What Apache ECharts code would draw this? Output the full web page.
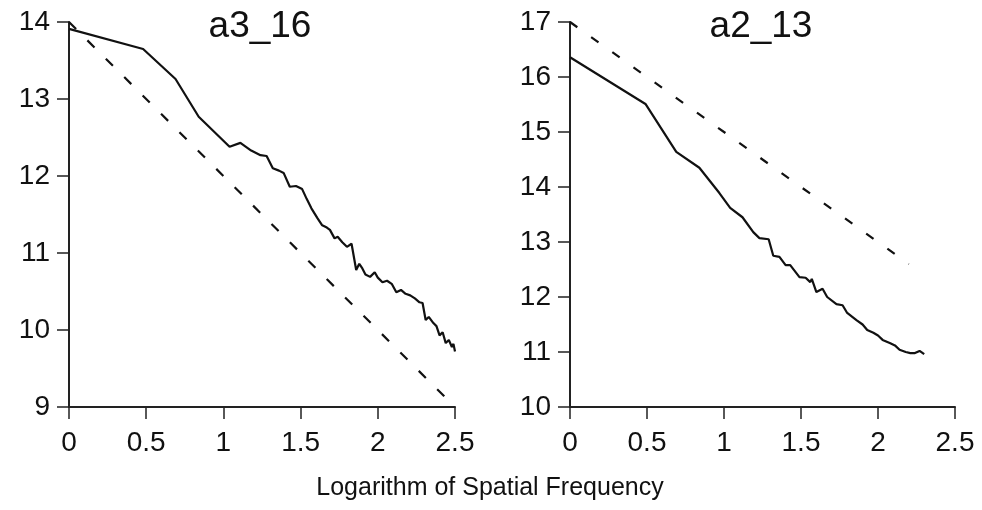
<!DOCTYPE html>
<html>
<head>
<meta charset="utf-8">
<script src="https://cdn.jsdelivr.net/npm/echarts@6/dist/echarts.min.js"></script>
<style>
  html, body { margin: 0; padding: 0; background: #fff; }
  #chart { width: 982px; height: 510px; }
</style>
</head>
<body>
<div id="chart"></div>
<script>
var chartDom = document.getElementById('chart');
var myChart = echarts.init(chartDom);

// panel titles
var titles = ['a3_16', 'a2_13'];

// left panel (a3_16) measured spectrum
var leftX = [0, 0.48, 0.69, 0.84, 1.04, 1.11, 1.18, 1.24, 1.28, 1.32, 1.36, 1.39, 1.43, 1.47, 1.51, 1.54, 1.57, 1.61, 1.64, 1.67, 1.69, 1.72, 1.74, 1.77, 1.80, 1.83, 1.86, 1.88, 1.90, 1.92, 1.95, 1.98, 2.00, 2.03, 2.06, 2.09, 2.12, 2.15, 2.18, 2.21, 2.24, 2.27, 2.29, 2.31, 2.33, 2.36, 2.38, 2.40, 2.42, 2.44, 2.46, 2.48, 2.49, 2.5];
var leftY = [13.91, 13.65, 13.26, 12.77, 12.38, 12.43, 12.33, 12.27, 12.26, 12.10, 12.07, 12.04, 11.86, 11.87, 11.83, 11.70, 11.58, 11.45, 11.36, 11.33, 11.30, 11.19, 11.21, 11.14, 11.08, 11.12, 10.78, 10.86, 10.80, 10.72, 10.69, 10.75, 10.68, 10.62, 10.64, 10.60, 10.49, 10.52, 10.47, 10.45, 10.41, 10.36, 10.35, 10.13, 10.17, 10.09, 10.05, 9.93, 9.97, 9.83, 9.87, 9.78, 9.82, 9.72];

// right panel (a2_13) measured spectrum
var rightX = [0, 0.49, 0.69, 0.84, 0.97, 1.04, 1.12, 1.19, 1.23, 1.29, 1.32, 1.36, 1.40, 1.43, 1.49, 1.53, 1.56, 1.57, 1.60, 1.64, 1.67, 1.73, 1.77, 1.80, 1.86, 1.90, 1.93, 1.97, 2.00, 2.03, 2.08, 2.11, 2.14, 2.18, 2.21, 2.24, 2.27, 2.30];
var rightY = [16.36, 15.51, 14.64, 14.35, 13.89, 13.62, 13.45, 13.18, 13.07, 13.05, 12.75, 12.73, 12.58, 12.58, 12.36, 12.35, 12.27, 12.33, 12.09, 12.15, 12.00, 11.87, 11.85, 11.71, 11.58, 11.50, 11.40, 11.35, 11.30, 11.22, 11.16, 11.12, 11.04, 11.00, 10.98, 10.98, 11.02, 10.96];

// reference slope lines (slope -2)
var leftRefX = [0, 2.5];
var leftRefY = [14.0, 9.0];
var rightRefX = [0, 2.2];
var rightRefY = [17.0, 12.6];

function pairs(xs, ys) {
  var out = [];
  for (let i = 0; i < xs.length; i++) out.push([xs[i], ys[i]]);
  return out;
}

var axisColor = '#222';
var font = 'Liberation Sans, Arial, sans-serif';

function xAxis(idx) {
  return {
    type: 'value', gridIndex: idx, min: 0, max: 2.5, interval: 0.5,
    axisLine: { show: true, onZero: false, lineStyle: { color: axisColor, width: 2 } },
    axisTick: { show: true, length: 12, lineStyle: { color: axisColor, width: 1.5 } },
    axisLabel: {
      color: '#111', fontSize: 28, fontFamily: font, margin: 22,
      formatter: function (v) { return String(v); }
    },
    splitLine: { show: false }
  };
}
function yAxis(idx, min, max) {
  return {
    type: 'value', gridIndex: idx, min: min, max: max, interval: 1,
    axisLine: { show: true, onZero: false, lineStyle: { color: axisColor, width: 2 } },
    axisTick: { show: true, length: 12, lineStyle: { color: axisColor, width: 1.5 } },
    axisLabel: { color: '#111', fontSize: 28, fontFamily: font, margin: 19 },
    splitLine: { show: false }
  };
}

var option = {
  animation: false,
  backgroundColor: '#fff',
  title: [
    { text: titles[0], left: 260, top: 8, padding: 0, textAlign: 'center',
      textStyle: { fontSize: 37, fontWeight: 'normal', color: '#111', fontFamily: font } },
    { text: titles[1], left: 761, top: 8, padding: 0, textAlign: 'center',
      textStyle: { fontSize: 37, fontWeight: 'normal', color: '#111', fontFamily: font } },
    { text: 'Logarithm of Spatial Frequency', left: 490, top: 476, padding: 0, textAlign: 'center',
      textStyle: { fontSize: 25, fontWeight: 'normal', color: '#111', fontFamily: font } }
  ],
  grid: [
    { left: 69, top: 22, width: 386, height: 385 },
    { left: 570, top: 22, width: 385, height: 385 }
  ],
  xAxis: [xAxis(0), xAxis(1)],
  yAxis: [yAxis(0, 9, 14), yAxis(1, 10, 17)],
  series: [
    { type: 'line', xAxisIndex: 0, yAxisIndex: 0, showSymbol: false,
      data: pairs(leftX, leftY), lineStyle: { color: '#111', width: 2.2 } },
    { type: 'line', xAxisIndex: 0, yAxisIndex: 0, showSymbol: false,
      data: pairs(leftRefX, leftRefY), lineStyle: { color: '#111', width: 2.2, type: [10, 16] } },
    { type: 'line', xAxisIndex: 1, yAxisIndex: 1, showSymbol: false,
      data: pairs(rightX, rightY), lineStyle: { color: '#111', width: 2.2 } },
    { type: 'line', xAxisIndex: 1, yAxisIndex: 1, showSymbol: false,
      data: pairs(rightRefX, rightRefY), lineStyle: { color: '#111', width: 2.2, type: [9, 17] } }
  ]
};

option && myChart.setOption(option);
</script>
</body>
</html>
